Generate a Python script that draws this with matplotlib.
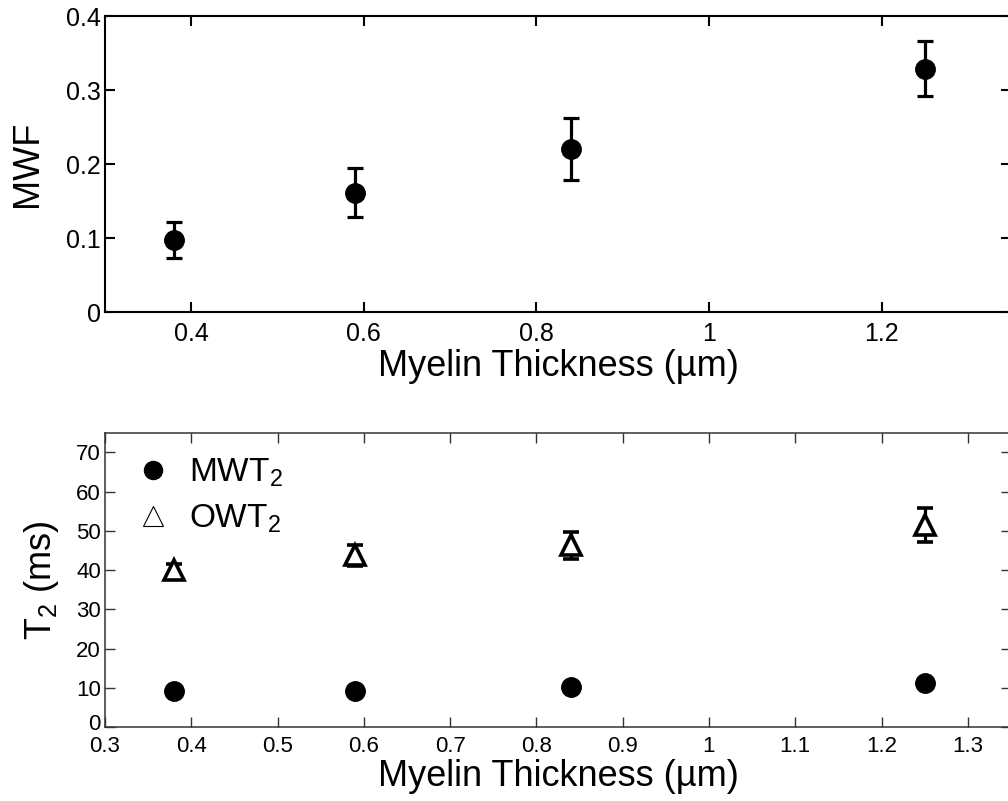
import matplotlib
matplotlib.use("Agg")
import matplotlib.pyplot as plt
import matplotlib.transforms as mtransforms
from matplotlib.lines import Line2D

# ---- data ----
thickness = [0.38, 0.59, 0.84, 1.25]
mwf = [0.097, 0.161, 0.220, 0.329]
mwf_err = [0.024, 0.033, 0.042, 0.037]
mwt2 = [9.3, 9.2, 10.2, 11.3]
mwt2_err = [0.5, 0.5, 0.6, 0.7]
owt2 = [40.0, 43.8, 46.3, 51.6]
owt2_err = [1.5, 2.7, 3.5, 4.3]

top_xticks = [0.4, 0.6, 0.8, 1.0, 1.2]
top_xticklabels = ["0.4", "0.6", "0.8", "1", "1.2"]
top_yticks = [0, 0.1, 0.2, 0.3, 0.4]
top_yticklabels = ["0", "0.1", "0.2", "0.3", "0.4"]
bot_xticks = [0.3, 0.4, 0.5, 0.6, 0.7, 0.8, 0.9, 1.0, 1.1, 1.2, 1.3]
bot_xticklabels = ["0.3", "0.4", "0.5", "0.6", "0.7", "0.8", "0.9", "1", "1.1", "1.2", "1.3"]
bot_yticks = [0, 10, 20, 30, 40, 50, 60, 70]

plt.rcParams['font.family'] = ['Liberation Sans', 'DejaVu Sans']
plt.rcParams['mathtext.fontset'] = 'custom'
plt.rcParams['mathtext.rm'] = 'Liberation Sans'
plt.rcParams['mathtext.it'] = 'Liberation Sans:italic'

W, H = 1008, 801
fig = plt.figure(figsize=(W / 100, H / 100), dpi=100)

# ---- top panel ----
ax1 = fig.add_axes([105 / W, 1 - 312 / H, 906 / W, 296 / H])
ax1.errorbar(thickness, mwf, yerr=mwf_err, fmt='o', color='black',
             markersize=14, elinewidth=2.3, capsize=5.5, capthick=2.3)
ax1.set_xlim(0.3, 1.35)
ax1.set_ylim(0, 0.4)
ax1.set_xticks(top_xticks)
ax1.set_xticklabels(top_xticklabels)
ax1.set_yticks(top_yticks)
ax1.set_yticklabels(top_yticklabels)
ax1.tick_params(direction='in', top=True, right=True, length=7, width=1.5,
                labelsize=18)
ax1.tick_params(axis='x', pad=7)
ax1.tick_params(axis='y', pad=3)
for s in ax1.spines.values():
    s.set_linewidth(1.5)
ax1.set_xlabel('Myelin Thickness (\u00b5m)', fontsize=26, labelpad=2)
ax1.set_ylabel('MWF', fontsize=26, labelpad=15)

# ---- bottom panel ----
ax2 = fig.add_axes([105 / W, 1 - 727.3 / H, 906 / W, 294.6 / H])
ax2.errorbar(thickness, mwt2, yerr=mwt2_err, fmt='o', color='black',
             markersize=14, elinewidth=2.3, capsize=5.5, capthick=2.3)
ax2.errorbar(thickness, owt2, yerr=owt2_err, fmt='^', color='black',
             markerfacecolor='white', markeredgecolor='black',
             markersize=14, markeredgewidth=2.6,
             elinewidth=2.3, capsize=5.5, capthick=2.3)
ax2.set_xlim(0.3, 1.35)
ax2.set_ylim(0, 75)
ax2.set_xticks(bot_xticks)
ax2.set_xticklabels(bot_xticklabels)
ax2.set_yticks(bot_yticks)
ax2.tick_params(direction='in', top=True, right=True, length=7, width=1.0,
                labelsize=16, color='#333333')
ax2.tick_params(axis='x', pad=6)
ax2.tick_params(axis='y', pad=3)
for s in ax2.spines.values():
    s.set_linewidth(1.1)
    s.set_color('#333333')
ax2.set_xlabel('Myelin Thickness (\u00b5m)', fontsize=26, labelpad=2)
ax2.set_ylabel(r'T$_\mathrm{2}$ (ms)', fontsize=26, labelpad=11)

# nudge only the "0" y tick label of the lower panel up so it clears "0.3"
offset = mtransforms.ScaledTranslation(0, 4 / 72, fig.dpi_scale_trans)
zero_lbl = ax2.get_yticklabels()[0]
zero_lbl.set_transform(zero_lbl.get_transform() + offset)

handles = [
    Line2D([], [], linestyle='none', marker='o', markersize=13,
           markerfacecolor='black', markeredgecolor='black'),
    Line2D([], [], linestyle='none', marker='^', markersize=14,
           markerfacecolor='white', markeredgecolor='black',
           markeredgewidth=0.8),
]
ax2.legend(handles, [r'MWT$_\mathrm{2}$', r'OWT$_\mathrm{2}$'],
           loc='upper left', bbox_to_anchor=(0.012, 0.987), frameon=False,
           fontsize=24, handlelength=1.0, handletextpad=0.6,
           labelspacing=0.42, borderaxespad=0.2)

fig.savefig('out.png', dpi=100)
